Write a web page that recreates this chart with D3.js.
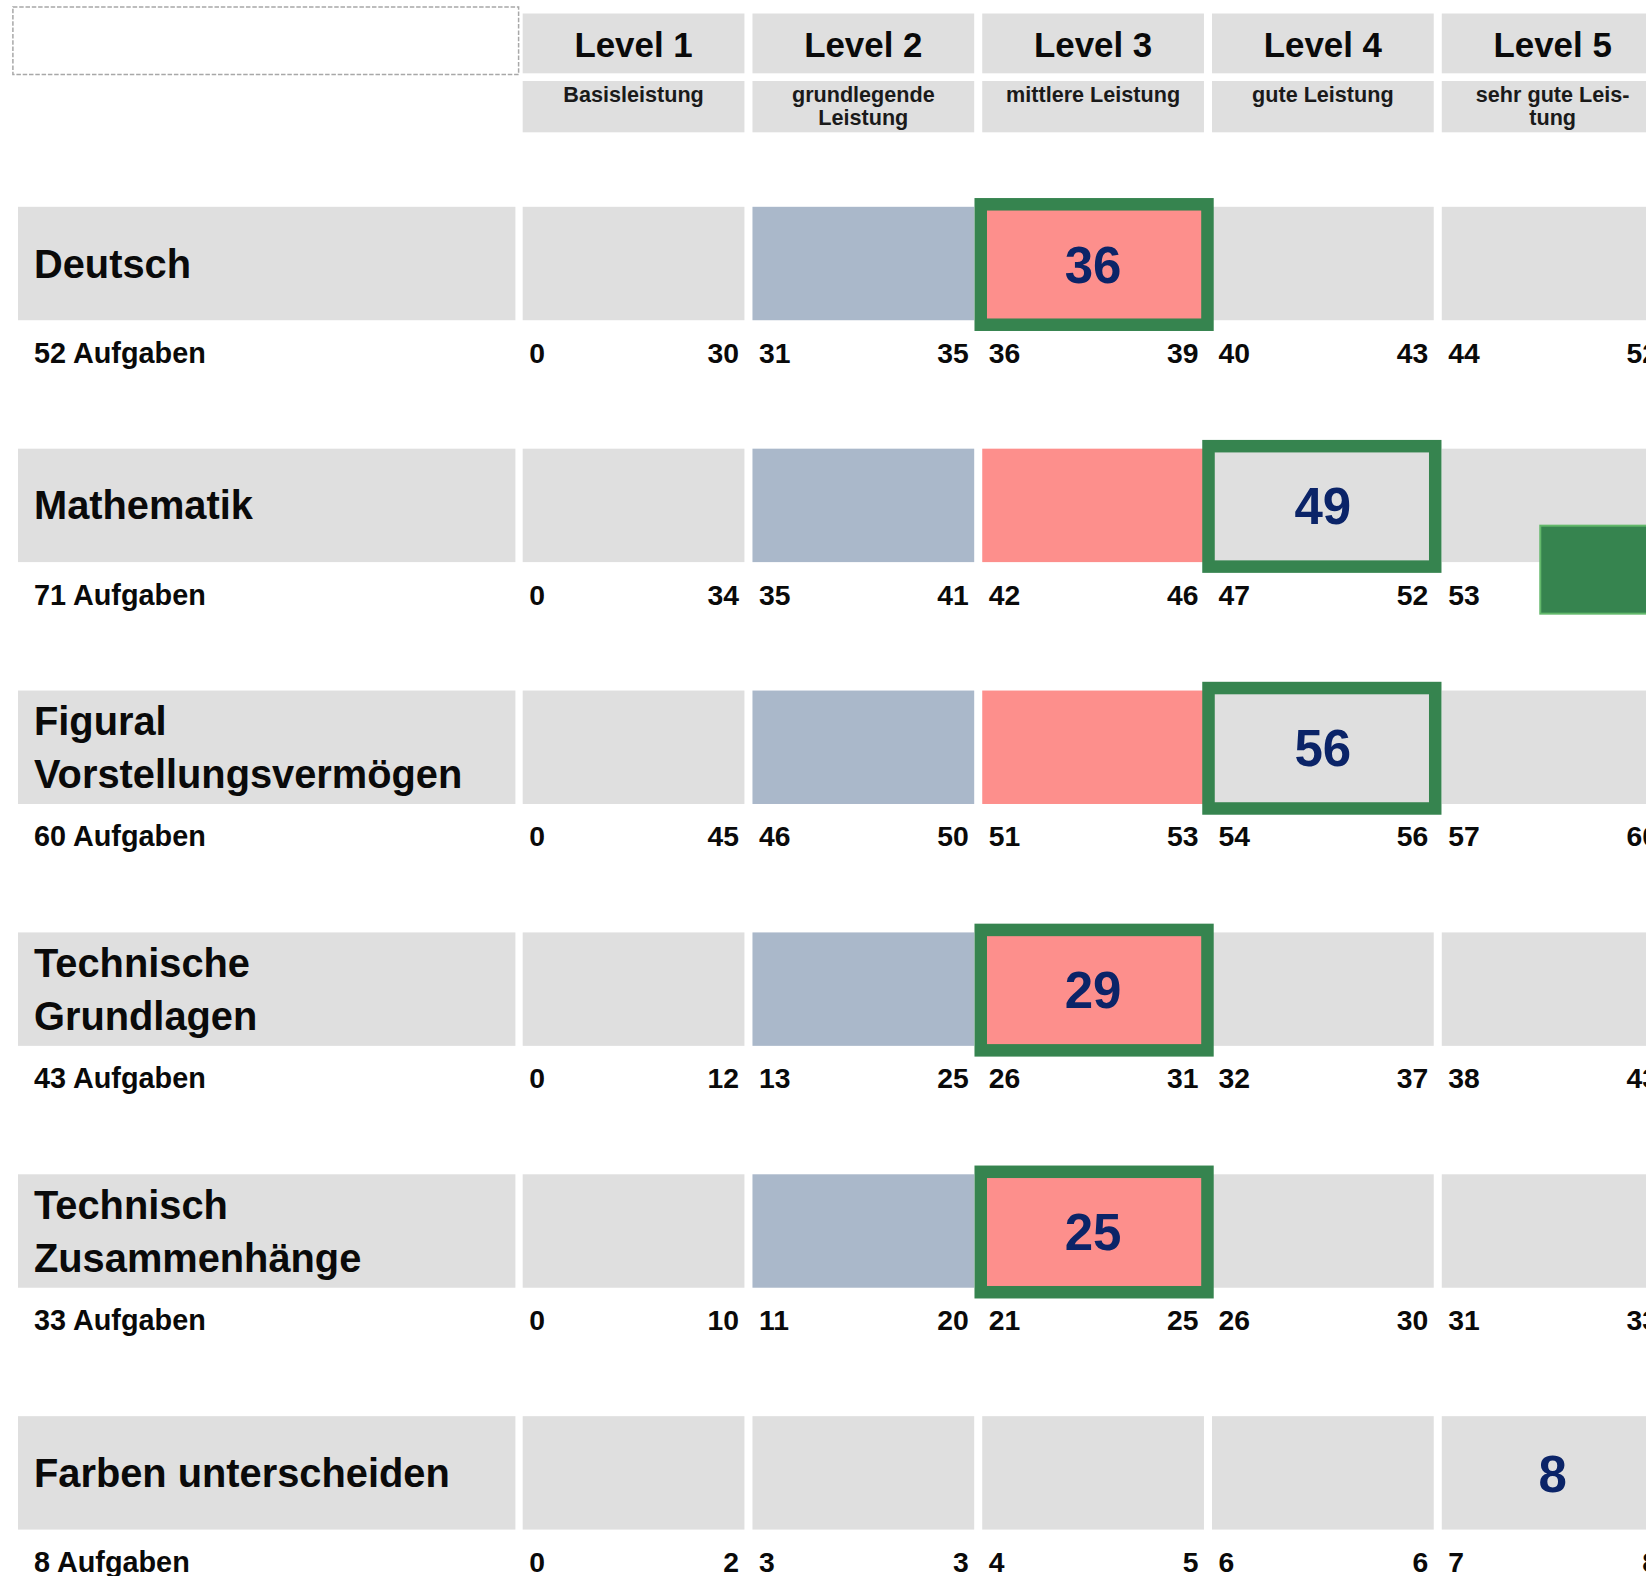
<!DOCTYPE html>
<html><head><meta charset="utf-8">
<script src="https://cdn.jsdelivr.net/npm/d3@7"></script>
<style>
html,body{margin:0;padding:0;background:#fff;overflow:hidden}
text{font-family:"Liberation Sans",Arial,Helvetica,sans-serif;font-weight:bold}
</style></head>
<body>
<svg id="chart" width="1646" height="1576"></svg>
<script>
// ---- data ----
const levels = ["Level 1", "Level 2", "Level 3", "Level 4", "Level 5"];
const levelDescriptions = [["Basisleistung"], ["grundlegende", "Leistung"], ["mittlere Leistung"], ["gute Leistung"], ["sehr gute Leis-", "tung"]];
const subjects = ["Deutsch", "Mathematik", "Figural Vorstellungsvermögen", "Technische Grundlagen", "Technisch Zusammenhänge", "Farben unterscheiden"];
const subjectLines = [["Deutsch"], ["Mathematik"], ["Figural", "Vorstellungsvermögen"], ["Technische", "Grundlagen"], ["Technisch", "Zusammenhänge"], ["Farben unterscheiden"]];
const taskCounts = [52, 71, 60, 43, 33, 8];
const lowerBounds = [[0, 31, 36, 40, 44], [0, 35, 42, 47, 53], [0, 46, 51, 54, 57], [0, 13, 26, 32, 38], [0, 11, 21, 26, 31], [0, 3, 4, 6, 7]];
const upperBounds = [[30, 35, 39, 43, 52], [34, 41, 46, 52, 71], [45, 50, 53, 56, 60], [12, 25, 31, 37, 43], [10, 20, 25, 30, 33], [2, 3, 5, 6, 8]];
const scores = [36, 49, 56, 29, 25, 8];
const highlighted = [true, true, true, true, true, false];
// cell shading category per subject & level: 0 = neutral, 1 = band below, 2 = band mid
const cellShading = [[0, 1, 2, 0, 0], [0, 1, 2, 0, 0], [0, 1, 2, 0, 0], [0, 1, 2, 0, 0], [0, 1, 2, 0, 0], [0, 0, 0, 0, 0]];

// ---- styles ----
const C = {gray: "#dfdfdf", blue: "#aab8ca", pink: "#fd8f8c", green: "#36844f", greenLight: "#63b86b", navy: "#0b2468", text: "#0a0a0a"};
const shadeColor = d3.scaleOrdinal().domain([0, 1, 2]).range([C.gray, C.blue, C.pink]);

const svg = d3.select("#chart");

const x = d3.scaleBand().domain(levels).range([522.7, 1663.5]).paddingInner(0.035).paddingOuter(0);
const y = d3.scaleBand().domain(subjects).range([206.8, 1529.6]).paddingInner(0.531).paddingOuter(0);
const bw = x.bandwidth(), bh = y.bandwidth();

// header dashed box
svg.append("rect").attr("x", 12.9).attr("y", 6.9).attr("width", 505.7).attr("height", 67.6)
  .attr("fill", "none").attr("stroke", "#a8a8a8").attr("stroke-width", 1.5).attr("stroke-dasharray", "4.5,1.8");

// level headers
const hdr = svg.append("g");
hdr.selectAll("rect.h").data(levels).join("rect").attr("class", "h")
  .attr("x", d => x(d)).attr("y", 13.5).attr("width", bw).attr("height", 59.8).attr("fill", C.gray);
hdr.selectAll("text.h").data(levels).join("text").attr("class", "h")
  .attr("x", d => x(d) + bw / 2).attr("y", 56.5).attr("text-anchor", "middle")
  .attr("font-size", 34.9).attr("fill", C.text).text(d => d);
hdr.selectAll("rect.s").data(levels).join("rect").attr("class", "s")
  .attr("x", d => x(d)).attr("y", 81).attr("width", bw).attr("height", 51.3).attr("fill", C.gray);
hdr.selectAll("text.s").data(levels).join("text").attr("class", "s")
  .attr("x", d => x(d) + bw / 2).attr("y", 101.7).attr("text-anchor", "middle")
  .attr("font-size", 21.6).attr("fill", "#1a1a1a")
  .each(function (d, i) {
    const t = d3.select(this);
    levelDescriptions[i].forEach((line, k) => {
      t.append("tspan").attr("x", x(d) + bw / 2).attr("dy", k === 0 ? 0 : 23.5).text(line);
    });
  });

// rows
subjects.forEach((s, i) => {
  const g = svg.append("g");
  const y0 = y(s);
  // label box
  g.append("rect").attr("x", 18).attr("y", y0).attr("width", 497.4).attr("height", bh).attr("fill", C.gray);
  const lines = subjectLines[i];
  const cy = y0 + bh / 2;
  const lt = g.append("text").attr("x", 34).attr("font-size", 39.8).attr("fill", C.text);
  if (lines.length === 1) {
    lt.attr("y", cy + 14).text(lines[0]);
  } else {
    lines.forEach((l, k) => lt.append("tspan").attr("x", 34).attr("y", cy - 12 + k * 53).text(l));
  }
  // count
  g.append("text").attr("x", 34).attr("y", y0 + bh + 42.5).attr("font-size", 28.8).attr("fill", C.text)
    .text(taskCounts[i] + " Aufgaben");
  // level cells
  g.selectAll("rect.c").data(levels).join("rect").attr("class", "c")
    .attr("x", d => x(d)).attr("y", y0).attr("width", bw).attr("height", bh)
    .attr("fill", (d, j) => shadeColor(cellShading[i][j]));
  // range ticks
  g.selectAll("text.lo").data(levels).join("text").attr("class", "lo")
    .attr("x", d => x(d) + 6.6).attr("y", y0 + bh + 42.5).attr("font-size", 28.3).attr("fill", C.text)
    .text((d, j) => lowerBounds[i][j]);
  g.selectAll("text.hi").data(levels).join("text").attr("class", "hi")
    .attr("x", d => x(d) + bw - 5.5).attr("y", y0 + bh + 42.5).attr("text-anchor", "end")
    .attr("font-size", 28.3).attr("fill", C.text)
    .text((d, j) => upperBounds[i][j]);
  // score level
  const li = lowerBounds[i].findIndex((lo, j) => scores[i] >= lo && scores[i] <= upperBounds[i][j]);
  const lv = levels[li];
  if (highlighted[i]) {
    const dx = li === 3 ? -3.5 : -1.5;
    g.append("rect").attr("x", x(lv) + dx).attr("y", y0 - 2.5).attr("width", bw + 5).attr("height", bh + 7)
      .attr("fill", "none").attr("stroke", C.green).attr("stroke-width", 12.5);
  }
  g.append("text").attr("x", x(lv) + bw / 2).attr("y", cy + 19).attr("text-anchor", "middle")
    .attr("font-size", 51).attr("fill", C.navy).text(scores[i]);
});

// decorative green block over Mathematik level 5 end label
const mY = y(subjects[1]);
svg.append("rect").attr("x", x(levels[4]) + 98.5).attr("y", mY + 77).attr("width", 140).attr("height", 88)
  .attr("fill", C.green).attr("stroke", C.greenLight).attr("stroke-width", 2);
</script>
</body></html>
